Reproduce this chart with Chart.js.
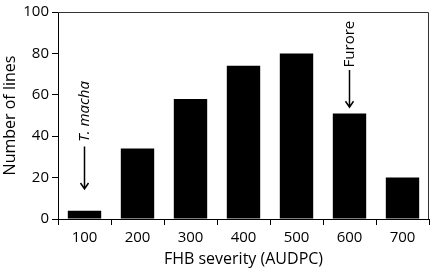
<!DOCTYPE html>
<html>
<head>
<meta charset="utf-8">
<script src="https://cdn.jsdelivr.net/npm/chart.js@4.4.1/dist/chart.umd.min.js"></script>
<style>
  html, body { margin: 0; padding: 0; background: #fff; }
  #wrap { width: 430px; height: 269px; }
</style>
</head>
<body>
<div id="wrap"><canvas id="fhbChart" width="430" height="269"></canvas></div>
<script>
const categories = ['100', '200', '300', '400', '500', '600', '700'];
const lineCounts = [4, 34, 58, 74, 80, 51, 20];
const yTicks = [0, 20, 40, 60, 80, 100];
const markedLines = ['T. macha', 'Furore'];
const markedCategories = ['100', '600'];

const FONT = '"Open Sans", sans-serif';

// arrows + rotated labels over the marked categories
const arrowPlugin = {
  id: 'arrows',
  afterDatasetsDraw(chart) {
    const { ctx, scales: { x, y } } = chart;
    // [textTop, textBottom, arrowTop, arrowTip] in axis units
    const spans = [[66, 38, 35, 14.5], [95, 74, 72, 54]];
    markedLines.forEach((name, i) => {
      const px = x.getPixelForValue(categories.indexOf(markedCategories[i]));
      const [tTop, tBot, aTop, aTip] = spans[i];
      ctx.save();
      ctx.fillStyle = '#000';
      ctx.font = (i === 0 ? 'italic ' : '') + '15px ' + FONT;
      ctx.translate(px, (y.getPixelForValue(tTop) + y.getPixelForValue(tBot)) / 2);
      ctx.rotate(-Math.PI / 2);
      ctx.textAlign = 'center';
      ctx.textBaseline = 'middle';
      ctx.fillText(name, 0, 0);
      ctx.restore();

      const y0 = y.getPixelForValue(aTop);
      const y1 = y.getPixelForValue(aTip);
      ctx.save();
      ctx.strokeStyle = '#000';
      ctx.lineWidth = 1.5;
      ctx.beginPath();
      ctx.moveTo(px, y0);
      ctx.lineTo(px, y1);
      ctx.moveTo(px - 4, y1 - 6);
      ctx.lineTo(px, y1);
      ctx.lineTo(px + 4, y1 - 6);
      ctx.stroke();
      ctx.restore();
    });
  },
  afterDraw(chart) {
    const { ctx, chartArea: a } = chart;
    ctx.save();
    ctx.strokeStyle = '#333';
    ctx.lineWidth = 1;
    ctx.beginPath();
    ctx.moveTo(a.left, a.top + 0.5);
    ctx.lineTo(a.right - 0.5, a.top + 0.5);
    ctx.lineTo(a.right - 0.5, a.bottom);
    ctx.stroke();
    ctx.restore();
  }
};

new Chart(document.getElementById('fhbChart').getContext('2d'), {
  type: 'bar',
  data: {
    labels: categories,
    datasets: [{
      label: 'Number of lines',
      data: lineCounts,
      backgroundColor: '#000',
      borderWidth: 0,
      barPercentage: 0.63,
      categoryPercentage: 1.0,
    }],
  },
  options: {
    responsive: false,
    animation: false,
    layout: { padding: { top: 5, right: 1, left: 0, bottom: 0 } },
    plugins: { legend: { display: false }, tooltip: { enabled: false } },
    scales: {
      x: {
        grid: { offset: true, drawOnChartArea: false, tickLength: 6, color: '#000' },
        border: { color: '#000', width: 1 },
        ticks: { color: '#000', font: { family: FONT, size: 15 }, padding: 4 },
        title: {
          display: true, text: 'FHB severity (AUDPC)', color: '#000',
          font: { family: FONT, size: 16 }, padding: { top: 2, bottom: 0 },
        },
        afterFit(scale) { scale.height = 50; },
      },
      y: {
        min: 0, max: 100,
        afterBuildTicks(scale) { scale.ticks = yTicks.map(v => ({ value: v })); },
        grid: { drawOnChartArea: false, tickLength: 6, color: '#000' },
        border: { color: '#000', width: 1 },
        ticks: { color: '#000', font: { family: FONT, size: 15 }, padding: 3 },
        title: {
          display: true, text: 'Number of lines', color: '#000',
          font: { family: FONT, size: 16 }, padding: { top: 1, bottom: 0 },
        },
        afterFit(scale) { scale.width = 58; },
      },
    },
  },
  plugins: [arrowPlugin],
});
</script>
</body>
</html>
